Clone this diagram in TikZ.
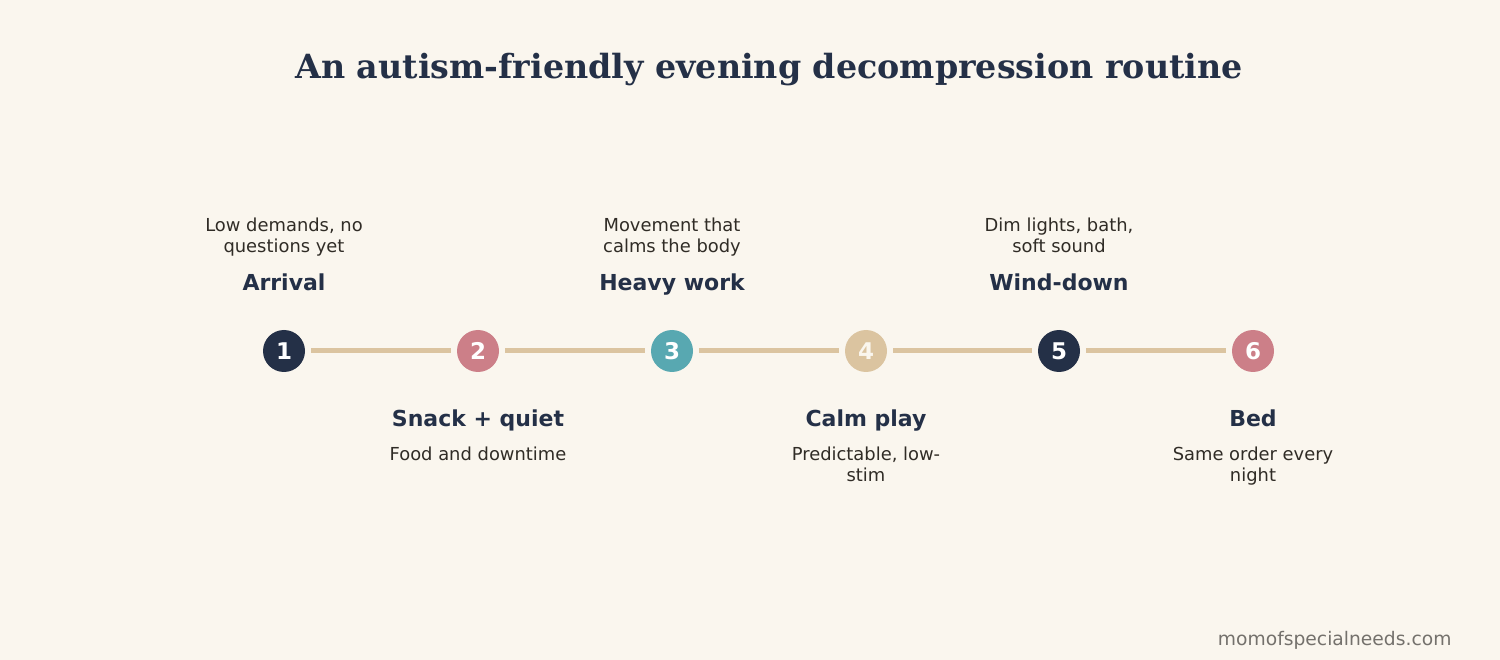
\documentclass[tikz,border=0pt]{standalone}
\usepackage{fontspec}
\setmainfont{DejaVu Sans}
\newfontfamily\titlefont{DejaVu Serif}
\usetikzlibrary{positioning}

\definecolor{bgcream}{HTML}{FAF6EE}
\definecolor{navy}{HTML}{243047}
\definecolor{rose}{HTML}{CC7F88}
\definecolor{teal}{HTML}{58A8B1}
\definecolor{sand}{HTML}{DBC4A0}
\definecolor{bodytext}{HTML}{302C26}
\definecolor{footgrey}{HTML}{74716C}

\tikzset{
  stepdot/.style={circle, minimum size=42pt, inner sep=0pt, text=white,
    font=\bfseries\fontsize{23}{23}\selectfont},
  steptitle/.style={anchor=base, text=navy, font=\bfseries\fontsize{22}{24}\selectfont},
  stepnote/.style={anchor=base, text=bodytext, align=center, font=\fontsize{17.9}{21}\selectfont},
  link/.style={draw=sand, line width=5pt, shorten <=6pt, shorten >=6pt}
}

\begin{document}
\begin{tikzpicture}[x=1pt, y=-1pt]
    \fill [bgcream] (0,0) rectangle (1500,660);
    \node [anchor=base, text=navy, font=\titlefont\bfseries\fontsize{33.3}{36}\selectfont] (title) at (769,78.5) {An autism-friendly evening decompression routine};

    \node [stepdot, fill=navy] (s1) at (284,351) {1};
    \node [stepdot, fill=rose] (s2) at (478,351) {2};
    \node [stepdot, fill=teal] (s3) at (672,351) {3};
    \node [stepdot, fill=sand, text=bgcream] (s4) at (866,351) {4};
    \node [stepdot, fill=navy] (s5) at (1059,351) {5};
    \node [stepdot, fill=rose] (s6) at (1253,351) {6};

    \draw [link] (s1) -- (s2);
    \draw [link] (s2) -- (s3);
    \draw [link] (s3) -- (s4);
    \draw [link] (s4) -- (s5);
    \draw [link] (s5) -- (s6);

    % two-line notes sit on the baseline of their last line
    \node [steptitle] (t1) at (284,291) {Arrival};
    \node [stepnote] (n1) at (284,253) {Low demands, no\\questions yet};
    \node [steptitle] (t2) at (478,426) {Snack + quiet};
    \node [stepnote] (n2) at (478,460) {Food and downtime};
    \node [steptitle] (t3) at (672,291) {Heavy work};
    \node [stepnote] (n3) at (672,253) {Movement that\\calms the body};
    \node [steptitle] (t4) at (866,426) {Calm play};
    \node [stepnote] (n4) at (866,481) {Predictable, low-\\stim};
    \node [steptitle] (t5) at (1059,291) {Wind-down};
    \node [stepnote] (n5) at (1059,253) {Dim lights, bath,\\soft sound};
    \node [steptitle] (t6) at (1253,426) {Bed};
    \node [stepnote] (n6) at (1253,481) {Same order every\\night};

    \node [anchor=base east, text=footgrey, font=\fontsize{18.7}{20}\selectfont] (credit) at (1455,645) {momofspecialneeds.com};
\end{tikzpicture}
\end{document}
